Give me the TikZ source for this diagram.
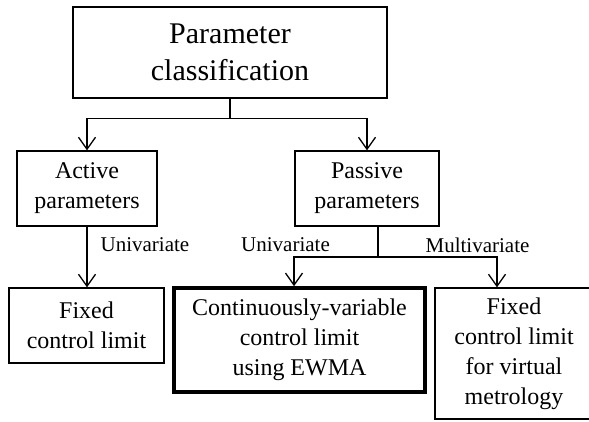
\documentclass[tikz,border=0pt]{standalone}
\usepackage{fontspec}
\setmainfont{Liberation Serif}
\usetikzlibrary{arrows.meta,calc,positioning}
\tikzset{
  box/.style={draw,line width=1.3pt,inner sep=0pt,align=center,font=\fontsize{24}{30}\selectfont},
  thickbox/.style={box,line width=3.6pt},
  lbl/.style={inner sep=0pt,font=\fontsize{21}{25}\selectfont},
}

\begin{document}
\begin{tikzpicture}[x=1pt,y=-1pt,>={Straight Barb[length=12pt,width=17pt]},line width=1.3pt]
      \useasboundingbox (0,0) rectangle (589,421);
      \node[box,minimum width=314pt,minimum height=91pt,font=\fontsize{30}{37}\selectfont] (top) at (230,52.5) {Parameter\\classification};
      \node[box,minimum width=140pt,minimum height=75pt] (active) at (87,188.5) {Active\\parameters};
      \node[box,minimum width=144pt,minimum height=75pt] (passive) at (367,188.5) {Passive\\parameters};
      \node[box,minimum width=155pt,minimum height=75pt] (fixed) at (86.5,325.5) {Fixed\\control limit};
      \node[thickbox,minimum width=251pt,minimum height=104pt] (ewma) at (299.5,340) {Continuously-variable\\control limit\\using EWMA};
      \node[box,minimum width=158pt,minimum height=131pt] (virtual) at (514,353.5) {Fixed\\control limit\\for virtual\\metrology};
      % first split
      \draw (top.south) -- ++(0,20) coordinate (split);
      \draw[->] (split) -| (active.north);
      \draw[->] (split) -| (passive.north);
      % active branch
      \draw[->] (active.south) -- (active.south |- fixed.north);
      \node[lbl,anchor=west] (uniA) at (100,245) {Univariate};
      % passive branch
      \coordinate (psplit) at (378,257);
      \draw (psplit |- passive.south) -- (psplit);
      \draw[->] (psplit) -| ([xshift=-5.5pt]ewma.north);
      \draw[->] (psplit) -| ([xshift=-17pt]virtual.north);
      \node[lbl] (uniP) at (285.5,245) {Univariate};
      \node[lbl] (multi) at (477.5,245) {Multivariate};
    \end{tikzpicture}
\end{document}
